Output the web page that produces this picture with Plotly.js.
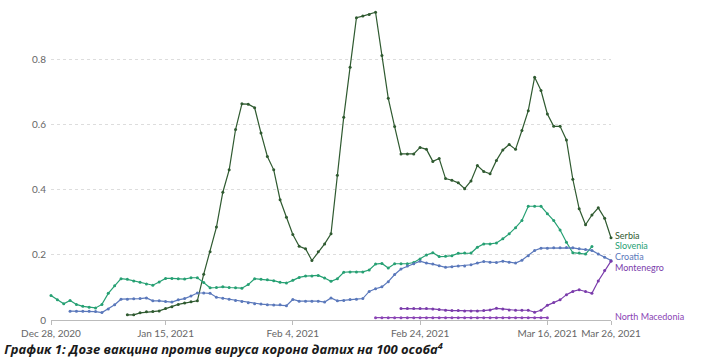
<!DOCTYPE html>
<html>
<head>
<meta charset="utf-8">
<script src="https://cdn.plot.ly/plotly-3.0.1.min.js"></script>
<style>
  html, body { margin: 0; padding: 0; background: #fff; }
  #chart { width: 702px; height: 363px; }
</style>
</head>
<body>
<div id="chart"></div>
<script>
// ---- data (doses per 100 people, daily) ----
const countries = ["Serbia", "Slovenia", "Croatia", "Montenegro", "North Macedonia"];
const firstDates = ["2021-01-09", "2020-12-28", "2020-12-31", "2021-02-21", "2021-02-17"];

const serbia = [0.016, 0.016, 0.022, 0.025, 0.026, 0.028, 0.035, 0.041, 0.048, 0.052, 0.056, 0.059,
  0.141, 0.21, 0.286, 0.393, 0.462, 0.586, 0.665, 0.664, 0.653, 0.575, 0.503, 0.462, 0.37, 0.316,
  0.263, 0.227, 0.219, 0.183, 0.21, 0.234, 0.265, 0.445, 0.624, 0.778, 0.93, 0.935, 0.94, 0.947,
  0.814, 0.682, 0.595, 0.511, 0.511, 0.511, 0.531, 0.525, 0.488, 0.497, 0.435, 0.43, 0.422, 0.404,
  0.428, 0.475, 0.457, 0.45, 0.491, 0.523, 0.54, 0.525, 0.583, 0.644, 0.747, 0.706, 0.634, 0.596,
  0.596, 0.554, 0.433, 0.342, 0.293, 0.323, 0.345, 0.313, 0.253];

const slovenia = [0.075, 0.062, 0.05, 0.06, 0.048, 0.042, 0.039, 0.037, 0.048, 0.082, 0.105, 0.127,
  0.125, 0.12, 0.116, 0.111, 0.107, 0.117, 0.128, 0.128, 0.127, 0.126, 0.13, 0.13, 0.115, 0.099,
  0.1, 0.102, 0.1, 0.099, 0.098, 0.109, 0.127, 0.125, 0.124, 0.121, 0.116, 0.114, 0.122, 0.131,
  0.135, 0.135, 0.137, 0.129, 0.119, 0.127, 0.147, 0.148, 0.148, 0.148, 0.154, 0.172, 0.174, 0.16,
  0.173, 0.173, 0.173, 0.177, 0.188, 0.2, 0.207, 0.195, 0.196, 0.198, 0.205, 0.206, 0.206, 0.224,
  0.234, 0.234, 0.237, 0.25, 0.265, 0.284, 0.306, 0.35, 0.35, 0.35, 0.327, 0.306, 0.277, 0.239,
  0.207, 0.206, 0.203, 0.226];

const croatia = [0.027, 0.027, 0.027, 0.027, 0.026, 0.023, 0.034, 0.047, 0.064, 0.064, 0.065, 0.066,
  0.068, 0.059, 0.059, 0.057, 0.055, 0.062, 0.066, 0.074, 0.083, 0.083, 0.082, 0.07, 0.067, 0.064,
  0.06, 0.057, 0.053, 0.05, 0.049, 0.047, 0.046, 0.047, 0.044, 0.063, 0.058, 0.058, 0.058, 0.058,
  0.055, 0.068, 0.059, 0.06, 0.063, 0.064, 0.066, 0.088, 0.096, 0.102, 0.118, 0.14, 0.157, 0.166,
  0.173, 0.181, 0.175, 0.172, 0.167, 0.162, 0.164, 0.166, 0.166, 0.17, 0.175, 0.18, 0.178, 0.177,
  0.181, 0.178, 0.175, 0.184, 0.198, 0.214, 0.221, 0.221, 0.222, 0.222, 0.223, 0.222, 0.219, 0.217,
  0.214, 0.203, 0.193, 0.183];

const montenegro = [0.035, 0.035, 0.035, 0.035, 0.035, 0.034, 0.032, 0.03, 0.029, 0.029, 0.028, 0.028,
  0.028, 0.029, 0.031, 0.036, 0.034, 0.031, 0.03, 0.03, 0.03, 0.024, 0.03, 0.045, 0.054, 0.062,
  0.078, 0.088, 0.093, 0.088, 0.082, 0.12, 0.152, 0.181];

const northMacedonia = [0.007, 0.007, 0.007, 0.007, 0.007, 0.007, 0.007, 0.007, 0.007, 0.007, 0.007,
  0.007, 0.007, 0.007, 0.007, 0.007, 0.007, 0.007, 0.007, 0.007, 0.007, 0.007, 0.007, 0.007, 0.007,
  0.007, 0.007, 0.007];

const tickDates = ["2020-12-28", "2021-01-15", "2021-02-04", "2021-02-24", "2021-03-16", "2021-03-26"];
const tickLabels = ["Dec 28, 2020", "Jan 15, 2021", "Feb 4, 2021", "Feb 24, 2021", "Mar 16, 2021", "Mar 26, 2021"];
const yTicks = [0, 0.2, 0.4, 0.6, 0.8];
const yTickLabels = ["0", "0.2", "0.4", "0.6", "0.8"];

// label positions for the end-of-line names (layout, not data)
const labelY = [0.259, 0.228, 0.196, 0.162, 0.012];
const colors = ["#2f5a30", "#26a073", "#5a78bb", "#7a3bab", "#8a44b5"];

const seriesValues = [serbia, slovenia, croatia, montenegro, northMacedonia];

function dailyDates(start, n) {
  const out = [];
  const d0 = new Date(start + "T00:00:00Z");
  for (let i = 0; i < n; i++) {
    const d = new Date(d0.getTime() + i * 86400000);
    out.push(d.toISOString().slice(0, 10));
  }
  return out;
}

const traces = countries.map((c, i) => ({
  type: "scatter",
  mode: "lines+markers",
  name: c,
  x: dailyDates(firstDates[i], seriesValues[i].length),
  y: seriesValues[i],
  line: { color: colors[i], width: 1.2 },
  marker: { color: colors[i], size: 3 },
  cliponaxis: false,
  hoverinfo: "x+y+name"
}));

const annotations = countries.map((c, i) => ({
  xref: "paper", yref: "y", x: 1, y: labelY[i],
  xanchor: "left", yanchor: "middle", xshift: 2,
  text: c, showarrow: false,
  font: { family: "Lato, sans-serif", size: 9, color: colors[i] }
}));

const layout = {
  width: 702, height: 363,
  margin: { l: 51, r: 91, t: 7, b: 43 },
  paper_bgcolor: "#fff", plot_bgcolor: "#fff",
  showlegend: false,
  title: {
    text: "<b><i>График 1: Дозе вакцина против вируса корона датих на 100 особа<sup>4</sup></i></b>",
    x: 0.006, xanchor: "left", xref: "container",
    y: 0.036, yanchor: "middle", yref: "container",
    font: { family: "Open Sans, sans-serif", size: 13, color: "#1a1a1a" }
  },
  xaxis: {
    type: "date",
    range: ["2020-12-28", "2021-03-26"],
    tickvals: tickDates, ticktext: tickLabels,
    showgrid: false, zeroline: false,
    showline: true, linecolor: "#bbb", linewidth: 1,
    ticks: "outside", ticklen: 4, tickcolor: "#bbb",
    tickfont: { family: "Lato, sans-serif", size: 10, color: "#666" }
  },
  yaxis: {
    range: [0, 0.963],
    tickvals: yTicks, ticktext: yTickLabels,
    showgrid: true, gridcolor: "#ddd", griddash: "dot", gridwidth: 1,
    zeroline: false, showline: false, ticks: "",
    ticklabelstandoff: 4,
    tickfont: { family: "Lato, sans-serif", size: 10, color: "#666" }
  },
  annotations: annotations
};

Plotly.newPlot("chart", traces, layout, { displayModeBar: false, staticPlot: true });
</script>
</body>
</html>
